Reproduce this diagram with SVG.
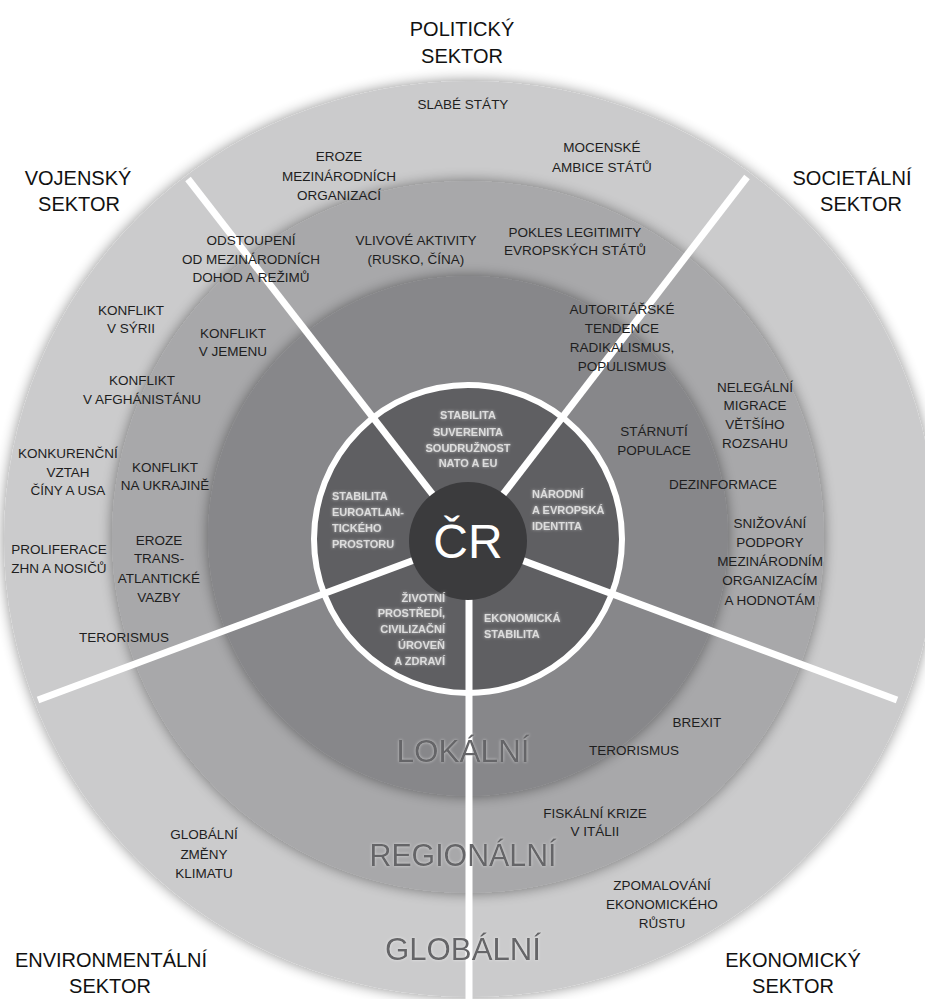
<svg xmlns="http://www.w3.org/2000/svg" width="925" height="999" viewBox="0 0 925 999">
<defs>
<style>
.t{font-family:"Liberation Sans",Arial,sans-serif;font-size:13.5px;fill:#1e1e1e;text-anchor:middle}
.s{font-family:"Liberation Sans",Arial,sans-serif;font-size:20px;fill:#111;text-anchor:middle}
.i{font-family:"Liberation Sans",Arial,sans-serif;font-size:11px;font-weight:bold;fill:#dcdcdc}
.b{font-family:"Liberation Sans",Arial,sans-serif;font-size:32px;fill:#656567;text-anchor:middle}
.cut{stroke:#fff;stroke-width:7;fill:none}
</style>
<filter id="sh" x="-10%" y="-10%" width="120%" height="120%">
<feGaussianBlur in="SourceAlpha" stdDeviation="7"/>
<feComponentTransfer><feFuncA type="linear" slope="0.45"/></feComponentTransfer>
<feMerge><feMergeNode/><feMergeNode in="SourceGraphic"/></feMerge>
</filter>
<filter id="glow" x="-20%" y="-40%" width="140%" height="180%">
<feGaussianBlur in="SourceAlpha" stdDeviation="1.6" result="b"/>
<feFlood flood-color="#ffffff" flood-opacity="0.55"/>
<feComposite in2="b" operator="in"/>
<feMerge><feMergeNode/><feMergeNode in="SourceGraphic"/></feMerge>
</filter>
</defs>
<rect width="925" height="999" fill="#fff"/>

<g id="rings">
<ellipse id="global" cx="470" cy="539" rx="466" ry="458" fill="#cbcbcc" filter="url(#sh)"/>
<circle id="regional" cx="468" cy="537" r="356" fill="#a8a8aa" filter="url(#sh)"/>
<circle id="local" cx="468" cy="536" r="260" fill="#87878a" filter="url(#sh)"/>
<circle id="core" cx="468" cy="539" r="154" fill="#5f5f62" stroke="#fff" stroke-width="6"/>
</g>

<g id="connectors">
<line class="cut" x1="468" y1="540" x2="188" y2="179"/>
<line class="cut" x1="468" y1="540" x2="747" y2="177"/>
<line class="cut" x1="468" y1="540" x2="38" y2="700"/>
<line class="cut" x1="468" y1="540" x2="897" y2="700"/>
<line class="cut" x1="469" y1="540" x2="469" y2="999"/>
</g>

<g id="cr">
<circle cx="468" cy="541" r="59" fill="#3b3b3d"/>
<text x="468" y="558" font-family="Liberation Sans, Arial, sans-serif" font-size="48" fill="#fff" text-anchor="middle">ČR</text>
</g>

<g id="scale-labels" filter="url(#glow)">
<text class="b" x="463" y="762" textLength="133" lengthAdjust="spacingAndGlyphs">LOKÁLNÍ</text>
<text class="b" x="463" y="866" textLength="187" lengthAdjust="spacingAndGlyphs">REGIONÁLNÍ</text>
<text class="b" x="463" y="960" textLength="156" lengthAdjust="spacingAndGlyphs">GLOBÁLNÍ</text>
</g>

<g id="sector-titles">
<text class="s" x="462" y="36">POLITICKÝ<tspan x="462" y="63">SEKTOR</tspan></text>
<text class="s" x="78" y="185">VOJENSKÝ<tspan x="79" y="211">SEKTOR</tspan></text>
<text class="s" x="852" y="185">SOCIETÁLNÍ<tspan x="861" y="211">SEKTOR</tspan></text>
<text class="s" x="111" y="967">ENVIRONMENTÁLNÍ<tspan x="110" y="993">SEKTOR</tspan></text>
<text class="s" x="793" y="967">EKONOMICKÝ<tspan x="793" y="993">SEKTOR</tspan></text>
</g>

<g id="core-values" filter="url(#glow)">
<text class="i" x="468" y="419" text-anchor="middle">STABILITA<tspan x="468" y="436">SUVERENITA</tspan><tspan x="468" y="452">SOUDRUŽNOST</tspan><tspan x="468" y="467">NATO A EU</tspan></text>
<text class="i" x="332" y="500">STABILITA<tspan x="332" y="516">EUROATLAN-</tspan><tspan x="332" y="532">TICKÉHO</tspan><tspan x="332" y="548">PROSTORU</tspan></text>
<text class="i" x="532" y="498">NÁRODNÍ<tspan x="532" y="514">A EVROPSKÁ</tspan><tspan x="532" y="530">IDENTITA</tspan></text>
<text class="i" x="445" y="602" text-anchor="end">ŽIVOTNÍ<tspan x="445" y="617">PROSTŘEDÍ,</tspan><tspan x="445" y="633">CIVILIZAČNÍ</tspan><tspan x="445" y="649">ÚROVEŇ</tspan><tspan x="445" y="665">A ZDRAVÍ</tspan></text>
<text class="i" x="484" y="622">EKONOMICKÁ<tspan x="484" y="638">STABILITA</tspan></text>
</g>

<g id="politicky">
<text class="t" x="463" y="109">SLABÉ STÁTY</text>
<text class="t" x="339" y="161">EROZE<tspan x="339" y="181">MEZINÁRODNÍCH</tspan><tspan x="339" y="200">ORGANIZACÍ</tspan></text>
<text class="t" x="602" y="152">MOCENSKÉ<tspan x="602" y="172">AMBICE STÁTŮ</tspan></text>
<text class="t" x="416" y="245">VLIVOVÉ AKTIVITY<tspan x="416" y="264">(RUSKO, ČÍNA)</tspan></text>
<text class="t" x="575" y="237">POKLES LEGITIMITY<tspan x="575" y="255">EVROPSKÝCH STÁTŮ</tspan></text>
</g>

<g id="vojensky">
<text class="t" x="251" y="245">ODSTOUPENÍ<tspan x="251" y="264">OD MEZINÁRODNÍCH</tspan><tspan x="251" y="282">DOHOD A REŽIMŮ</tspan></text>
<text class="t" x="131" y="315">KONFLIKT<tspan x="131" y="333">V SÝRII</tspan></text>
<text class="t" x="233" y="338">KONFLIKT<tspan x="233" y="356">V JEMENU</tspan></text>
<text class="t" x="142" y="385">KONFLIKT<tspan x="142" y="404">V AFGHÁNISTÁNU</tspan></text>
<text class="t" x="68" y="458">KONKURENČNÍ<tspan x="68" y="477">VZTAH</tspan><tspan x="68" y="495">ČÍNY A USA</tspan></text>
<text class="t" x="165" y="472">KONFLIKT<tspan x="165" y="490">NA UKRAJINĚ</tspan></text>
<text class="t" x="59" y="554">PROLIFERACE<tspan x="59" y="573">ZHN A NOSIČŮ</tspan></text>
<text class="t" x="159" y="545">EROZE<tspan x="159" y="563">TRANS-</tspan><tspan x="159" y="583">ATLANTICKÉ</tspan><tspan x="159" y="602">VAZBY</tspan></text>
<text class="t" x="124" y="642">TERORISMUS</text>
</g>

<g id="societalni">
<text class="t" x="622" y="314">AUTORITÁŘSKÉ<tspan x="622" y="333">TENDENCE</tspan><tspan x="622" y="352">RADIKALISMUS,</tspan><tspan x="622" y="371">POPULISMUS</tspan></text>
<text class="t" x="755" y="392">NELEGÁLNÍ<tspan x="755" y="410">MIGRACE</tspan><tspan x="755" y="429">VĚTŠÍHO</tspan><tspan x="755" y="448">ROZSAHU</tspan></text>
<text class="t" x="654" y="436">STÁRNUTÍ<tspan x="654" y="455">POPULACE</tspan></text>
<text class="t" x="723" y="489">DEZINFORMACE</text>
<text class="t" x="770" y="528">SNIŽOVÁNÍ<tspan x="770" y="547">PODPORY</tspan><tspan x="770" y="566">MEZINÁRODNÍM</tspan><tspan x="770" y="585">ORGANIZACÍM</tspan><tspan x="770" y="605">A HODNOTÁM</tspan></text>
</g>

<g id="ekonomicky">
<text class="t" x="697" y="727">BREXIT</text>
<text class="t" x="634" y="755">TERORISMUS</text>
<text class="t" x="595" y="818">FISKÁLNÍ KRIZE<tspan x="595" y="836">V ITÁLII</tspan></text>
<text class="t" x="662" y="890">ZPOMALOVÁNÍ<tspan x="662" y="909">EKONOMICKÉHO</tspan><tspan x="662" y="928">RŮSTU</tspan></text>
</g>

<g id="environmentalni">
<text class="t" x="204" y="839">GLOBÁLNÍ<tspan x="204" y="859">ZMĚNY</tspan><tspan x="204" y="878">KLIMATU</tspan></text>
</g>
</svg>
